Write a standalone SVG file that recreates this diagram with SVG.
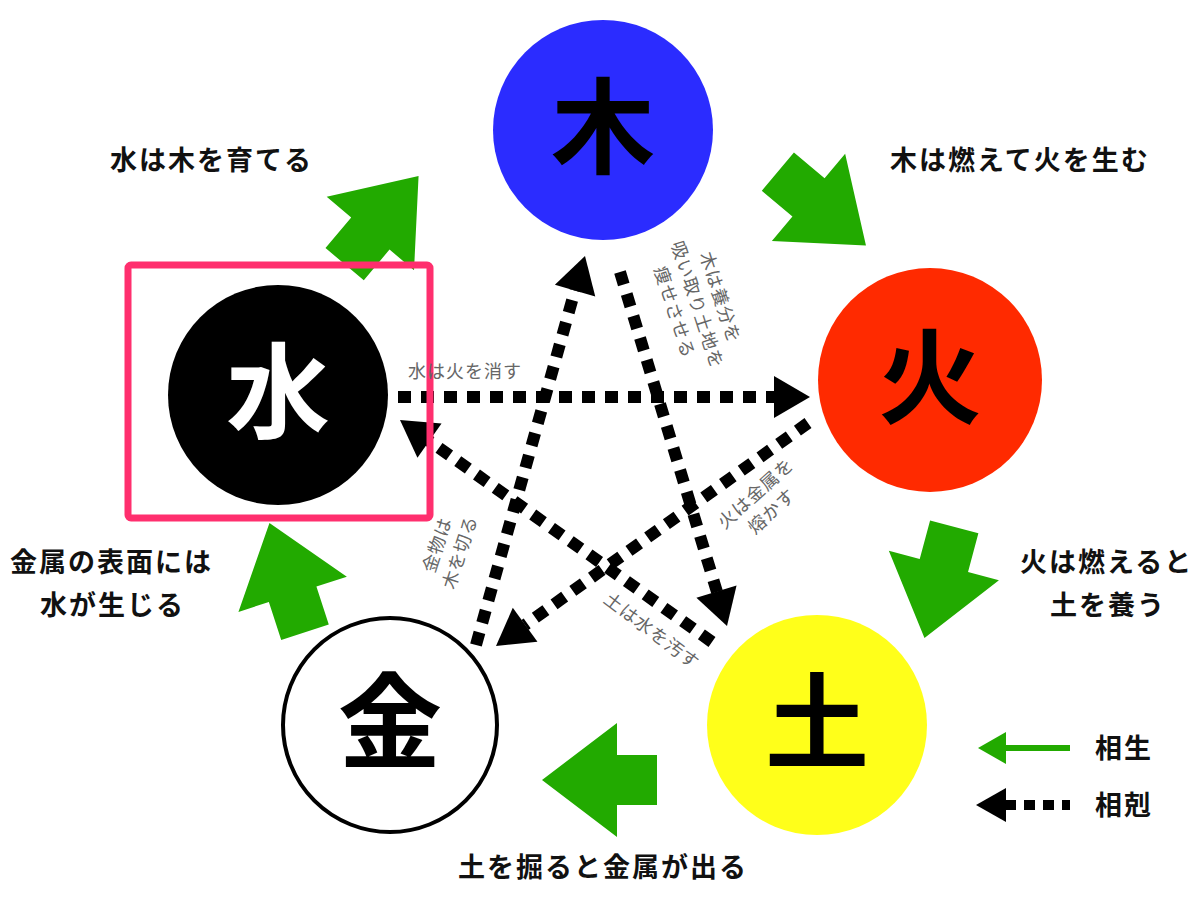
<svg xmlns="http://www.w3.org/2000/svg" width="1200" height="903" viewBox="0 0 1200 903">
<style>
text{font-family:"Noto Sans CJK JP","Noto Sans",sans-serif}
.big{font-size:104px;font-weight:bold;text-anchor:middle}
.lab{font-size:27px;font-weight:bold;fill:#111;letter-spacing:2px}
.sm{font-size:18px;fill:#666;text-anchor:middle;letter-spacing:1px}
.dot{stroke:#000;stroke-width:12;stroke-dasharray:13 10;fill:none}
.g{fill:#22aa00}
</style>
<defs>
<path id="ga" d="M-55,-25 H-15 V-57 L60,0 L-15,57 V25 H-55 Z"/>
<path id="bh" d="M0,0 L-36,-21 L-36,21 Z"/>
</defs>
<rect width="1200" height="903" fill="#fff"/>
<g id="connectors">
<line class="dot" x1="398" y1="397" x2="778" y2="397"/>
<use href="#bh" transform="translate(810,397)"/>
<line class="dot" x1="620" y1="272" x2="717" y2="592"/>
<use href="#bh" transform="translate(727,626) rotate(73)"/>
<line class="dot" x1="808" y1="423" x2="525" y2="625"/>
<use href="#bh" transform="translate(496,646) rotate(144)"/>
<line class="dot" x1="712" y1="642" x2="428" y2="440"/>
<use href="#bh" transform="translate(400,420) rotate(215)"/>
<line class="dot" x1="476" y1="645" x2="575" y2="290"/>
<use href="#bh" transform="translate(585,256) rotate(-74)"/>
<use class="g" href="#ga" transform="translate(380,222) rotate(-50)"/>
<use class="g" href="#ga" transform="translate(820,207) rotate(40)"/>
<use class="g" href="#ga" transform="translate(940,580) rotate(105)"/>
<use class="g" href="#ga" transform="translate(602,780) rotate(180)"/>
<use class="g" href="#ga" transform="translate(288,580) rotate(-108)"/>
</g>
<rect x="128" y="265" width="302" height="253" fill="none" stroke="#ff2f6e" stroke-width="7" rx="3"/>
<g id="n-moku"><circle cx="603" cy="130" r="110" fill="#2b2cff"/><text class="big" x="603" y="166">木</text></g>
<g id="n-ka"><circle cx="930" cy="380" r="112" fill="#ff2a00"/><text class="big" x="930" y="416">火</text></g>
<g id="n-do"><circle cx="817" cy="725" r="110" fill="#ffff1a"/><text class="big" x="817" y="761">土</text></g>
<g id="n-kin"><circle cx="390" cy="725" r="107" fill="#fff" stroke="#000" stroke-width="4"/><text class="big" x="390" y="761">金</text></g>
<g id="n-sui"><circle cx="278" cy="395" r="110" fill="#000"/><text class="big" x="278" y="431" fill="#fff">水</text></g>
<g id="labels">
<text class="lab" x="110" y="170">水は木を育てる</text>
<text class="lab" x="890" y="170">木は燃えて火を生む</text>
<text class="lab" x="1020" y="572">火は燃えると</text>
<text class="lab" x="1050" y="615">土を養う</text>
<text class="lab" x="10" y="572">金属の表面には</text>
<text class="lab" x="40" y="615">水が生じる</text>
<text class="lab" x="458" y="877">土を掘ると金属が出る</text>
<text class="sm" x="465" y="378">水は火を消す</text>
<g transform="translate(697,305) rotate(72)"><text class="sm" x="0" y="-18">木は養分を</text><text class="sm" x="0" y="6">吸い取り土地を</text><text class="sm" x="0" y="30">痩せさせる</text></g>
<g transform="translate(760,498) rotate(-42)"><text class="sm" x="0" y="0">火は金属を</text><text class="sm" x="0" y="24">熔かす</text></g>
<g transform="translate(447,548) rotate(-72)"><text class="sm" x="0" y="-4">金物は</text><text class="sm" x="0" y="20">木を切る</text></g>
<g transform="translate(648,636) rotate(37)"><text class="sm" x="0" y="0">土は水を汚す</text></g>
</g>
<g id="legend">
<line x1="1000" y1="748" x2="1070" y2="748" stroke="#22aa00" stroke-width="6"/>
<path d="M978,748 L1006,732 L1006,764 Z" class="g"/>
<text class="lab" x="1095" y="758">相生</text>
<line x1="1005" y1="805" x2="1070" y2="805" stroke="#000" stroke-width="10" stroke-dasharray="11 8"/>
<path d="M976,805 L1006,788 L1006,822 Z"/>
<text class="lab" x="1095" y="815">相剋</text>
</g>
</svg>
